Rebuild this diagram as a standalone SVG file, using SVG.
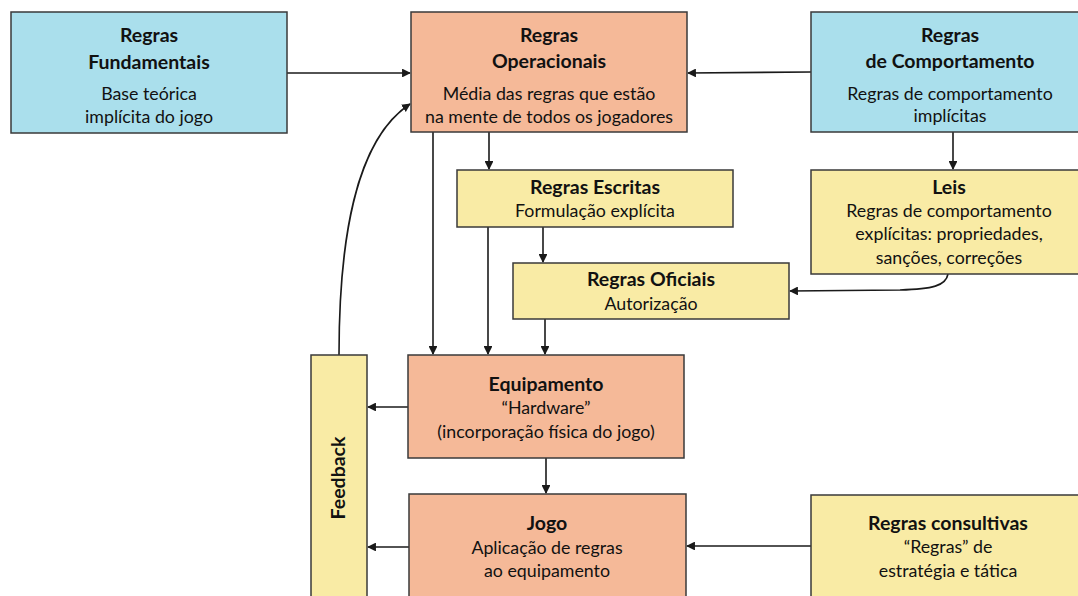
<svg xmlns="http://www.w3.org/2000/svg" width="1078" height="596" viewBox="0 0 1078 596">
  <style>
    .box { stroke: #3a3a3a; stroke-width: 1.5; }
    .blue { fill: #aadfec; }
    .orange { fill: #f5b998; }
    .yellow { fill: #f9eba5; }
    text { font-family: Lato, "Open Sans", "Liberation Sans", sans-serif; fill: #111; text-anchor: middle; }
    .t { font-size: 19.5px; font-weight: bold; }
    .b { font-size: 17.8px; }
    .edge { fill: none; stroke: #1a1a1a; stroke-width: 1.6; marker-end: url(#arrow); }
  </style>
  <defs>
    <marker id="arrow" viewBox="0 0 10 10" refX="9" refY="5" markerWidth="5.5" markerHeight="5.5" orient="auto" markerUnits="strokeWidth">
      <path d="M0,0 L10,5 L0,10 Z" fill="#1a1a1a"/>
    </marker>
  </defs>
  <rect width="1078" height="596" fill="#ffffff"/>

  <g id="connectors">
    <line class="edge" x1="287" y1="73" x2="410" y2="73"/>
    <line class="edge" x1="811" y1="72" x2="688" y2="73"/>
    <path class="edge" d="M339,355 C339,240 355,140 410,104"/>
    <line class="edge" x1="433" y1="132" x2="433" y2="354"/>
    <line class="edge" x1="489" y1="132" x2="489" y2="169"/>
    <line class="edge" x1="488" y1="227" x2="488" y2="354"/>
    <line class="edge" x1="543" y1="227" x2="543" y2="262"/>
    <line class="edge" x1="545" y1="319" x2="545" y2="354"/>
    <line class="edge" x1="953" y1="132" x2="953" y2="169"/>
    <path class="edge" d="M948,274 C946,286 932,289 900,290 L790,291"/>
    <line class="edge" x1="408" y1="407" x2="368" y2="407"/>
    <line class="edge" x1="546" y1="458" x2="546" y2="493"/>
    <line class="edge" x1="409" y1="547" x2="368" y2="547"/>
    <line class="edge" x1="811" y1="546" x2="687" y2="546"/>
  </g>

  <g id="regras-fundamentais">
    <rect class="box blue" x="11" y="12" width="276" height="121"/>
    <text class="t" x="149" y="42">Regras</text>
    <text class="t" x="149" y="69">Fundamentais</text>
    <text class="b" x="149" y="100">Base teórica</text>
    <text class="b" x="149" y="123">implícita do jogo</text>
  </g>

  <g id="regras-operacionais">
    <rect class="box orange" x="411" y="12" width="276" height="120"/>
    <text class="t" x="549" y="42">Regras</text>
    <text class="t" x="549" y="68">Operacionais</text>
    <text class="b" x="549" y="100">Média das regras que estão</text>
    <text class="b" x="549" y="123">na mente de todos os jogadores</text>
  </g>

  <g id="regras-comportamento">
    <rect class="box blue" x="811" y="12" width="280" height="120"/>
    <text class="t" x="950" y="42">Regras</text>
    <text class="t" x="950" y="68">de Comportamento</text>
    <text class="b" x="950" y="100">Regras de comportamento</text>
    <text class="b" x="950" y="122">implícitas</text>
  </g>

  <g id="leis">
    <rect class="box yellow" x="811" y="170" width="280" height="104"/>
    <text class="t" x="949" y="194">Leis</text>
    <text class="b" x="949" y="217">Regras de comportamento</text>
    <text class="b" x="949" y="240">explícitas: propriedades,</text>
    <text class="b" x="949" y="264">sanções, correções</text>
  </g>

  <g id="regras-escritas">
    <rect class="box yellow" x="457" y="170" width="276" height="57"/>
    <text class="t" x="595" y="194">Regras Escritas</text>
    <text class="b" x="595" y="217">Formulação explícita</text>
  </g>

  <g id="regras-oficiais">
    <rect class="box yellow" x="513" y="263" width="276" height="56"/>
    <text class="t" x="651" y="286">Regras Oficiais</text>
    <text class="b" x="651" y="310">Autorização</text>
  </g>

  <g id="equipamento">
    <rect class="box orange" x="408" y="355" width="276" height="103"/>
    <text class="t" x="546" y="391">Equipamento</text>
    <text class="b" x="546" y="414">“Hardware”</text>
    <text class="b" x="546" y="438">(incorporação física do jogo)</text>
  </g>

  <g id="jogo">
    <rect class="box orange" x="409" y="494" width="277" height="120"/>
    <text class="t" x="547" y="530">Jogo</text>
    <text class="b" x="547" y="554">Aplicação de regras</text>
    <text class="b" x="547" y="577">ao equipamento</text>
  </g>

  <g id="feedback">
    <rect class="box yellow" x="311" y="355" width="56" height="260"/>
    <text class="t" transform="translate(345,478) rotate(-90)">Feedback</text>
  </g>

  <g id="regras-consultivas">
    <rect class="box yellow" x="811" y="495" width="280" height="120"/>
    <text class="t" x="948" y="530">Regras consultivas</text>
    <text class="b" x="948" y="553">“Regras” de</text>
    <text class="b" x="948" y="577">estratégia e tática</text>
  </g>
</svg>
